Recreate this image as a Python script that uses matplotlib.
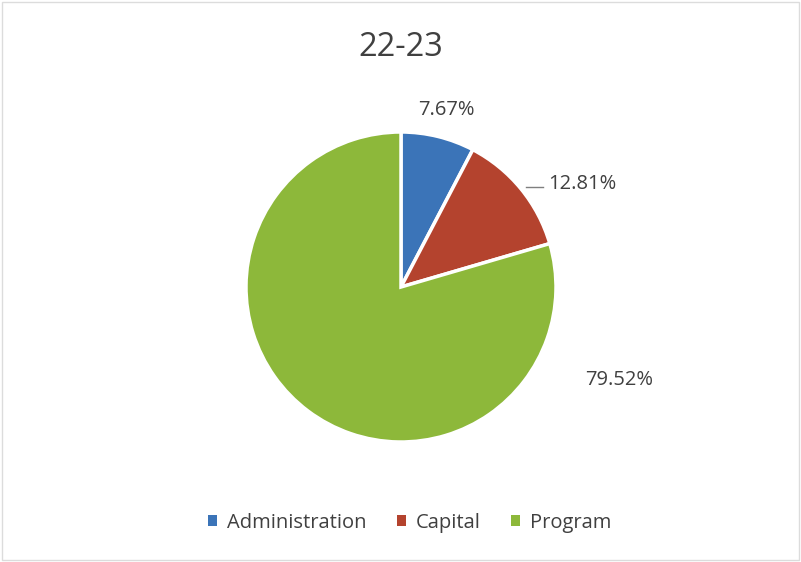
import matplotlib
matplotlib.use('Agg')
import matplotlib.pyplot as plt
from matplotlib.patches import Rectangle, Patch

# data
categories = ['Administration', 'Capital', 'Program']
shares = [7.67, 12.81, 79.52]
colors = ['#3B74B8', '#B4432E', '#8DB83A']
title = '22-23'

plt.rcParams['font.family'] = ['Open Sans', 'DejaVu Sans']
text_color = '#404040'

fig = plt.figure(figsize=(8.01, 5.62), dpi=100)
ax = fig.add_axes([0, 0, 1, 1])

# pie radius = 155 px, centre at (401, 287) px from top-left
R = 155.0
cx, cy = 401.0, 562 - 287.0
ax.pie(shares, colors=colors, startangle=90, counterclock=False,
       wedgeprops={'edgecolor': 'white', 'linewidth': 2.5})
ax.set_xlim(-cx / R, (801 - cx) / R)
ax.set_ylim(-cy / R, (562 - cy) / R)
ax.set_aspect('auto')
ax.axis('off')

# data labels (Excel-like "best fit" placement)
label_pos = [(0.29, 1.14, 'center'), (0.95, 0.665, 'left'), (1.406, -0.60, 'center')]
for val, (x, y, ha) in zip(shares, label_pos):
    ax.text(x, y, f'{val:.2f}%', ha=ha, va='center', fontsize=14.5, color=text_color)
ax.plot([0.806, 0.916], [0.645, 0.645], color='#7f7f7f', lw=1)

fig.text(401 / 801, 1 - 48 / 562, title, ha='center', va='center',
         fontsize=23.5, color=text_color)

handles = [Patch(facecolor=c, edgecolor='none') for c in colors]
fig.legend(handles, categories, loc='center', bbox_to_anchor=(410 / 801, 1 - 523 / 562),
           ncol=3, frameon=False, fontsize=14.5, handlelength=0.45, handleheight=0.45,
           handletextpad=0.5, columnspacing=1.5, labelcolor=text_color)

# faint chart border
fig.patches.append(Rectangle((0.002, 0.003), 0.995, 0.994, transform=fig.transFigure,
                             fill=False, edgecolor='#dcdcdc', lw=1))

fig.savefig('out.png', dpi=100)
